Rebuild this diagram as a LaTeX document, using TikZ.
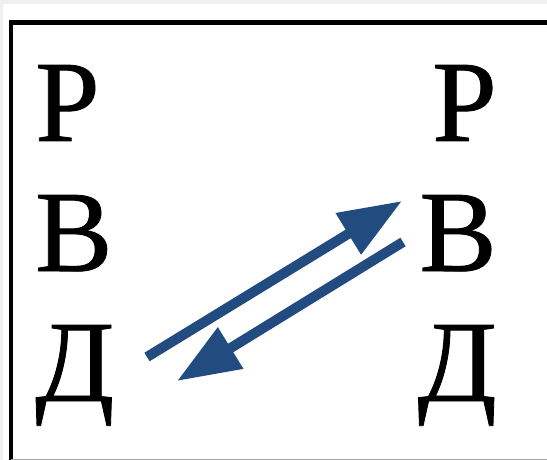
\documentclass[tikz,border=0pt]{standalone}
\usepackage{fontspec}
\setmainfont{Liberation Serif}
\newfontfamily\lettersfont[FakeBold=0.7]{Liberation Serif}
\usepackage{tikz}
\usetikzlibrary{arrows.meta}
\definecolor{arrowblue}{HTML}{224B80}

\begin{document}
\begin{tikzpicture}[x=1pt, y=-1pt,
    letter/.style={inner sep=0pt, font=\lettersfont\fontsize{116}{116}\selectfont},
    frame/.style={line width=4.5pt, black},
    flow/.style={-{Triangle[length=63pt, width=46pt]}, line width=10pt, arrowblue}
  ]
    \useasboundingbox (0,0) rectangle (547,460);
    \fill[gray!12] (0,0) rectangle (547,460);
    \fill[white] (3,4) rectangle (547,460);
    \draw[frame] (11,460) -- (11,22.5) -- (547,22.5);
    \draw[gray!70, line width=1.2pt] (11,459.4) -- (547,459.4);

    \node[letter, anchor=base west] (lr) at (35,141) {Р};
    \node[letter, anchor=base west] (lv) at (35,271) {В};
    \node[letter, anchor=base west] (ld) at (35,401) {Д};
    \node[letter, anchor=base east] (rr) at (497,141) {Р};
    \node[letter, anchor=base east] (rv) at (497,271) {В};
    \node[letter, anchor=base east] (rd) at (497,401) {Д};

    \coordinate (fromd) at (147,357);
    \coordinate (tov)   at (402,201);
    \coordinate (fromv) at (403,242);
    \coordinate (tod)   at (177,381);

    \draw[flow] (fromd) -- (tov);
    \draw[flow] (fromv) -- (tod);
  \end{tikzpicture}
\end{document}
